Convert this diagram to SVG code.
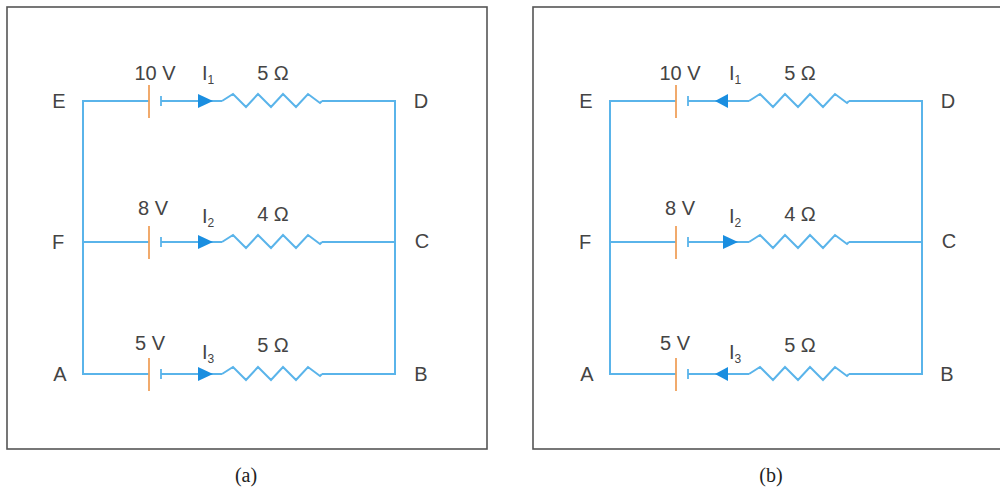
<svg xmlns="http://www.w3.org/2000/svg" width="1000" height="490" viewBox="0 0 1000 490">
<style>
.frame{fill:#fff;stroke:#555;stroke-width:1.6}
.w{fill:none;stroke:#5ab4ea;stroke-width:2}
.pl{stroke:#f0a15c;stroke-width:1.8}
.ps{stroke:#5ab4ea;stroke-width:1.8}
.arr{fill:#1a8ee0}
.t{font-family:"Liberation Sans",Arial,sans-serif;font-size:20px;fill:#444}
.m{text-anchor:middle}
.sub{font-size:12px}
.cap{font-family:"Liberation Serif","Times New Roman",serif;font-size:20px;fill:#222;text-anchor:middle}
</style>
<defs>
<path id="res" d="M222,0 L233,-7 L246,6 L258,-7 L271,6 L283,-7 L296,6 L308,-7 L320,2 L322,0"/>
<g id="circuit">
  <g id="connectors">
    <path class="w" d="M149,101 H83 V374 H149 M83,242 H149"/>
    <path class="w" d="M161,101 H222 M322,101 H395 V374 H322 M161,242 H222 M322,242 H395 M161,374 H222"/>
    <use href="#res" class="w" transform="translate(0,101)"/>
    <use href="#res" class="w" transform="translate(0,242)"/>
    <use href="#res" class="w" transform="translate(0,374)"/>
  </g>
  <g id="bat1"><line class="pl" x1="149" y1="85" x2="149" y2="118"/><line class="ps" x1="161" y1="96" x2="161" y2="106"/></g>
  <g id="bat2"><line class="pl" x1="149" y1="226" x2="149" y2="259"/><line class="ps" x1="161" y1="237" x2="161" y2="247"/></g>
  <g id="bat3"><line class="pl" x1="149" y1="358" x2="149" y2="391"/><line class="ps" x1="161" y1="369" x2="161" y2="379"/></g>
</g>
</defs>

<rect class="frame" x="7" y="7" width="480" height="442"/>
<rect class="frame" x="533" y="7" width="480" height="442"/>

<g id="panel-a">
  <use href="#circuit"/>
  <g id="arrows-a">
    <path class="arr" d="M198,94 L213,101 L198,108 Z"/>
    <path class="arr" d="M198,235 L213,242 L198,249 Z"/>
    <path class="arr" d="M198,367 L213,374 L198,381 Z"/>
  </g>
  <g id="node-E-a"><text class="t m" x="59" y="108">E</text></g>
  <g id="node-D-a"><text class="t m" x="421" y="108">D</text></g>
  <g id="node-F-a"><text class="t m" x="58" y="249">F</text></g>
  <g id="node-C-a"><text class="t m" x="422" y="248">C</text></g>
  <g id="node-A-a"><text class="t m" x="60" y="381">A</text></g>
  <g id="node-B-a"><text class="t m" x="421" y="381">B</text></g>
  <g id="labels-a">
    <text class="t m" x="155" y="80">10 V</text>
    <text class="t" x="202" y="80">I<tspan class="sub" dy="4">1</tspan></text>
    <text class="t m" x="273" y="80">5 Ω</text>
    <text class="t m" x="153" y="215">8 V</text>
    <text class="t" x="202" y="223">I<tspan class="sub" dy="4">2</tspan></text>
    <text class="t m" x="273" y="221">4 Ω</text>
    <text class="t m" x="150" y="350">5 V</text>
    <text class="t" x="202" y="359">I<tspan class="sub" dy="4">3</tspan></text>
    <text class="t m" x="273" y="352">5 Ω</text>
  </g>
</g>

<g id="panel-b" transform="translate(527,0)">
  <use href="#circuit"/>
  <g id="arrows-b">
    <path class="arr" d="M201,94 L188,101 L201,108 Z"/>
    <path class="arr" d="M196,235 L211,242 L196,249 Z"/>
    <path class="arr" d="M201,367 L188,374 L201,381 Z"/>
  </g>
  <g id="node-E-b"><text class="t m" x="59" y="108">E</text></g>
  <g id="node-D-b"><text class="t m" x="421" y="108">D</text></g>
  <g id="node-F-b"><text class="t m" x="58" y="249">F</text></g>
  <g id="node-C-b"><text class="t m" x="422" y="248">C</text></g>
  <g id="node-A-b"><text class="t m" x="60" y="381">A</text></g>
  <g id="node-B-b"><text class="t m" x="420" y="381">B</text></g>
  <g id="labels-b">
    <text class="t m" x="153" y="80">10 V</text>
    <text class="t" x="202" y="80">I<tspan class="sub" dy="4">1</tspan></text>
    <text class="t m" x="273" y="80">5 Ω</text>
    <text class="t m" x="153" y="215">8 V</text>
    <text class="t" x="202" y="223">I<tspan class="sub" dy="4">2</tspan></text>
    <text class="t m" x="273" y="221">4 Ω</text>
    <text class="t m" x="148" y="350">5 V</text>
    <text class="t" x="202" y="359">I<tspan class="sub" dy="4">3</tspan></text>
    <text class="t m" x="273" y="352">5 Ω</text>
  </g>
</g>

<text class="cap" x="246" y="482">(a)</text>
<text class="cap" x="771" y="482">(b)</text>
</svg>
